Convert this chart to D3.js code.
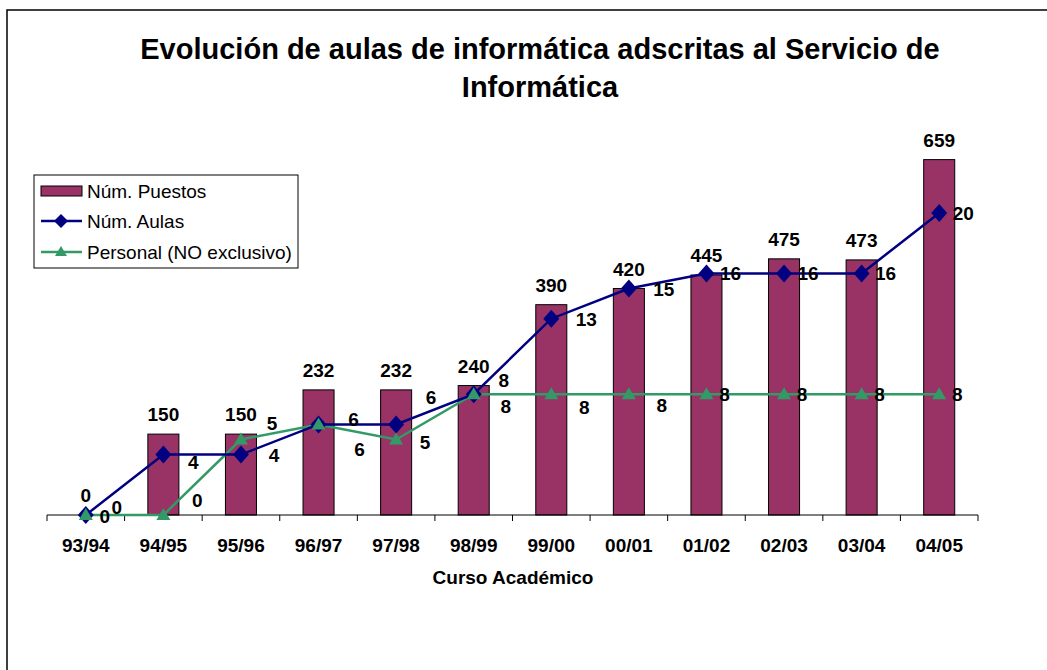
<!DOCTYPE html>
<html><head><meta charset="utf-8">
<script src="https://cdn.jsdelivr.net/npm/d3@7"></script>
<style>body{margin:0;background:#fff}svg{display:block;font-family:Arial,"Liberation Sans",sans-serif}</style>
</head><body><svg id="c" width="1047" height="670"></svg>
<script>
const categories = ["93/94","94/95","95/96","96/97","97/98","98/99","99/00","00/01","01/02","02/03","03/04","04/05"];
const puestos = [0,150,150,232,232,240,390,420,445,475,473,659];
const aulas = [0,4,4,6,6,8,13,15,16,16,16,20];
const personal = [0,0,5,6,5,8,8,8,8,8,8,8];
const seriesNames = ["Núm. Puestos","Núm. Aulas","Personal (NO exclusivo)"];
const titleLines = ["Evolución de aulas de informática adscritas al Servicio de","Informática"];
const xTitle = "Curso Académico";

// label layout (pixel offsets, not data)
const aulasLabelShift = [[31,-8],[30,7],[33,0],[35,-5],[35,-27],[30,-14],[35,0],[35,0],[24,0],[24,0],[24,0],[24,0]];
const personalLabelShift = [[19,1],[34,-15],[31,-17],[41,25],[29,2],[32,12],[33,13],[33,11],[18,0],[18,0],[18,0],[18,0]];

const svg = d3.select("#c");
const C = {bar:"#993366", aulas:"#000080", pers:"#339966"};
const FS = 19;

svg.append("rect").attr("x",7).attr("y",10).attr("width",1200).attr("height",800)
  .attr("fill","none").attr("stroke","#000").attr("stroke-width",1.5);

const x = d3.scaleBand().domain(categories).range([47,978]).padding(0);
const yBar = d3.scaleLinear().domain([0,700]).range([515,137.5]);
const yLine = d3.scaleLinear().domain([0,25]).range([515,137.5]);
const cx = d => x(d) + x.bandwidth()/2;
const bw = x.bandwidth()*0.4;

// title
svg.append("g").selectAll("text").data(titleLines).join("text")
  .attr("x",540).attr("y",(d,i)=>59+i*38).attr("text-anchor","middle")
  .attr("font-size",29).attr("font-weight","bold").text(d=>d);

// bars
svg.append("g").selectAll("rect").data(categories).join("rect")
  .attr("x",d=>cx(d)-bw/2).attr("width",bw)
  .attr("y",(d,i)=>yBar(puestos[i])).attr("height",(d,i)=>yBar(0)-yBar(puestos[i]))
  .attr("fill",C.bar).attr("stroke","#000").attr("stroke-width",1);

// axis
const ax = svg.append("g").attr("transform","translate(0,515)");
ax.append("line").attr("x1",47).attr("x2",978).attr("stroke","#000").attr("stroke-width",1);
ax.selectAll("line.t").data(d3.range(categories.length+1)).join("line").attr("class","t")
  .attr("x1",i=>47+i*x.bandwidth()).attr("x2",i=>47+i*x.bandwidth())
  .attr("y1",0).attr("y2",6).attr("stroke","#000");
ax.selectAll("text").data(categories).join("text")
  .attr("x",d=>cx(d)).attr("y",37).attr("text-anchor","middle")
  .attr("font-size",FS).attr("font-weight","bold").text(d=>d);
svg.append("text").attr("x",513).attr("y",584).attr("text-anchor","middle")
  .attr("font-size",FS).attr("font-weight","bold").text(xTitle);

// lines
const lineGen = (ys, vals) => d3.line().x((d,i)=>cx(categories[i])).y(d=>ys(d))(vals);
svg.append("path").attr("d",lineGen(yLine,personal)).attr("fill","none").attr("stroke",C.pers).attr("stroke-width",2.5);
svg.append("path").attr("d",lineGen(yLine,aulas)).attr("fill","none").attr("stroke",C.aulas).attr("stroke-width",2.5);
svg.append("g").selectAll("path").data(aulas).join("path")
  .attr("d","M0,-9L8,0L0,9L-8,0Z")
  .attr("transform",(d,i)=>`translate(${cx(categories[i])},${yLine(d)})`).attr("fill",C.aulas);
svg.append("g").selectAll("path").data(personal).join("path")
  .attr("d","M0,-7L7,5L-7,5Z")
  .attr("transform",(d,i)=>`translate(${cx(categories[i])},${yLine(d)})`).attr("fill",C.pers);

// labels
const lab = svg.append("g").attr("font-size",FS).attr("font-weight","bold").attr("fill","#000");
lab.selectAll("text.b").data(puestos).join("text").attr("class","b")
  .attr("x",(d,i)=>cx(categories[i])).attr("y",d=>yBar(d)-13).attr("text-anchor","middle").text(d=>d);
lab.selectAll("text.a").data(aulas).join("text").attr("class","a")
  .attr("x",(d,i)=>cx(categories[i])+aulasLabelShift[i][0]).attr("y",(d,i)=>yLine(d)+aulasLabelShift[i][1]+7)
  .attr("text-anchor","middle").text(d=>d);
lab.selectAll("text.p").data(personal).join("text").attr("class","p")
  .attr("x",(d,i)=>cx(categories[i])+personalLabelShift[i][0]).attr("y",(d,i)=>yLine(d)+personalLabelShift[i][1]+7)
  .attr("text-anchor","middle").text(d=>d);

// legend
const lg = svg.append("g");
lg.append("rect").attr("x",34).attr("y",175).attr("width",264).attr("height",93)
  .attr("fill","#fff").attr("stroke","#000").attr("stroke-width",1);
const rows = [191,221,252];
lg.append("rect").attr("x",41).attr("y",rows[0]-5).attr("width",41).attr("height",10)
  .attr("fill",C.bar).attr("stroke","#000");
lg.append("line").attr("x1",41).attr("x2",82).attr("y1",rows[1]).attr("y2",rows[1]).attr("stroke",C.aulas).attr("stroke-width",2.5);
lg.append("path").attr("d","M0,-7L7,0L0,7L-7,0Z").attr("transform",`translate(61,${rows[1]})`).attr("fill",C.aulas);
lg.append("line").attr("x1",41).attr("x2",82).attr("y1",rows[2]).attr("y2",rows[2]).attr("stroke",C.pers).attr("stroke-width",2.5);
lg.append("path").attr("d","M0,-6L6,4L-6,4Z").attr("transform",`translate(61,${rows[2]})`).attr("fill",C.pers);
lg.selectAll("text").data(seriesNames).join("text")
  .attr("x",87).attr("y",(d,i)=>rows[i]+7).attr("font-size",FS).text(d=>d);
</script></body></html>
